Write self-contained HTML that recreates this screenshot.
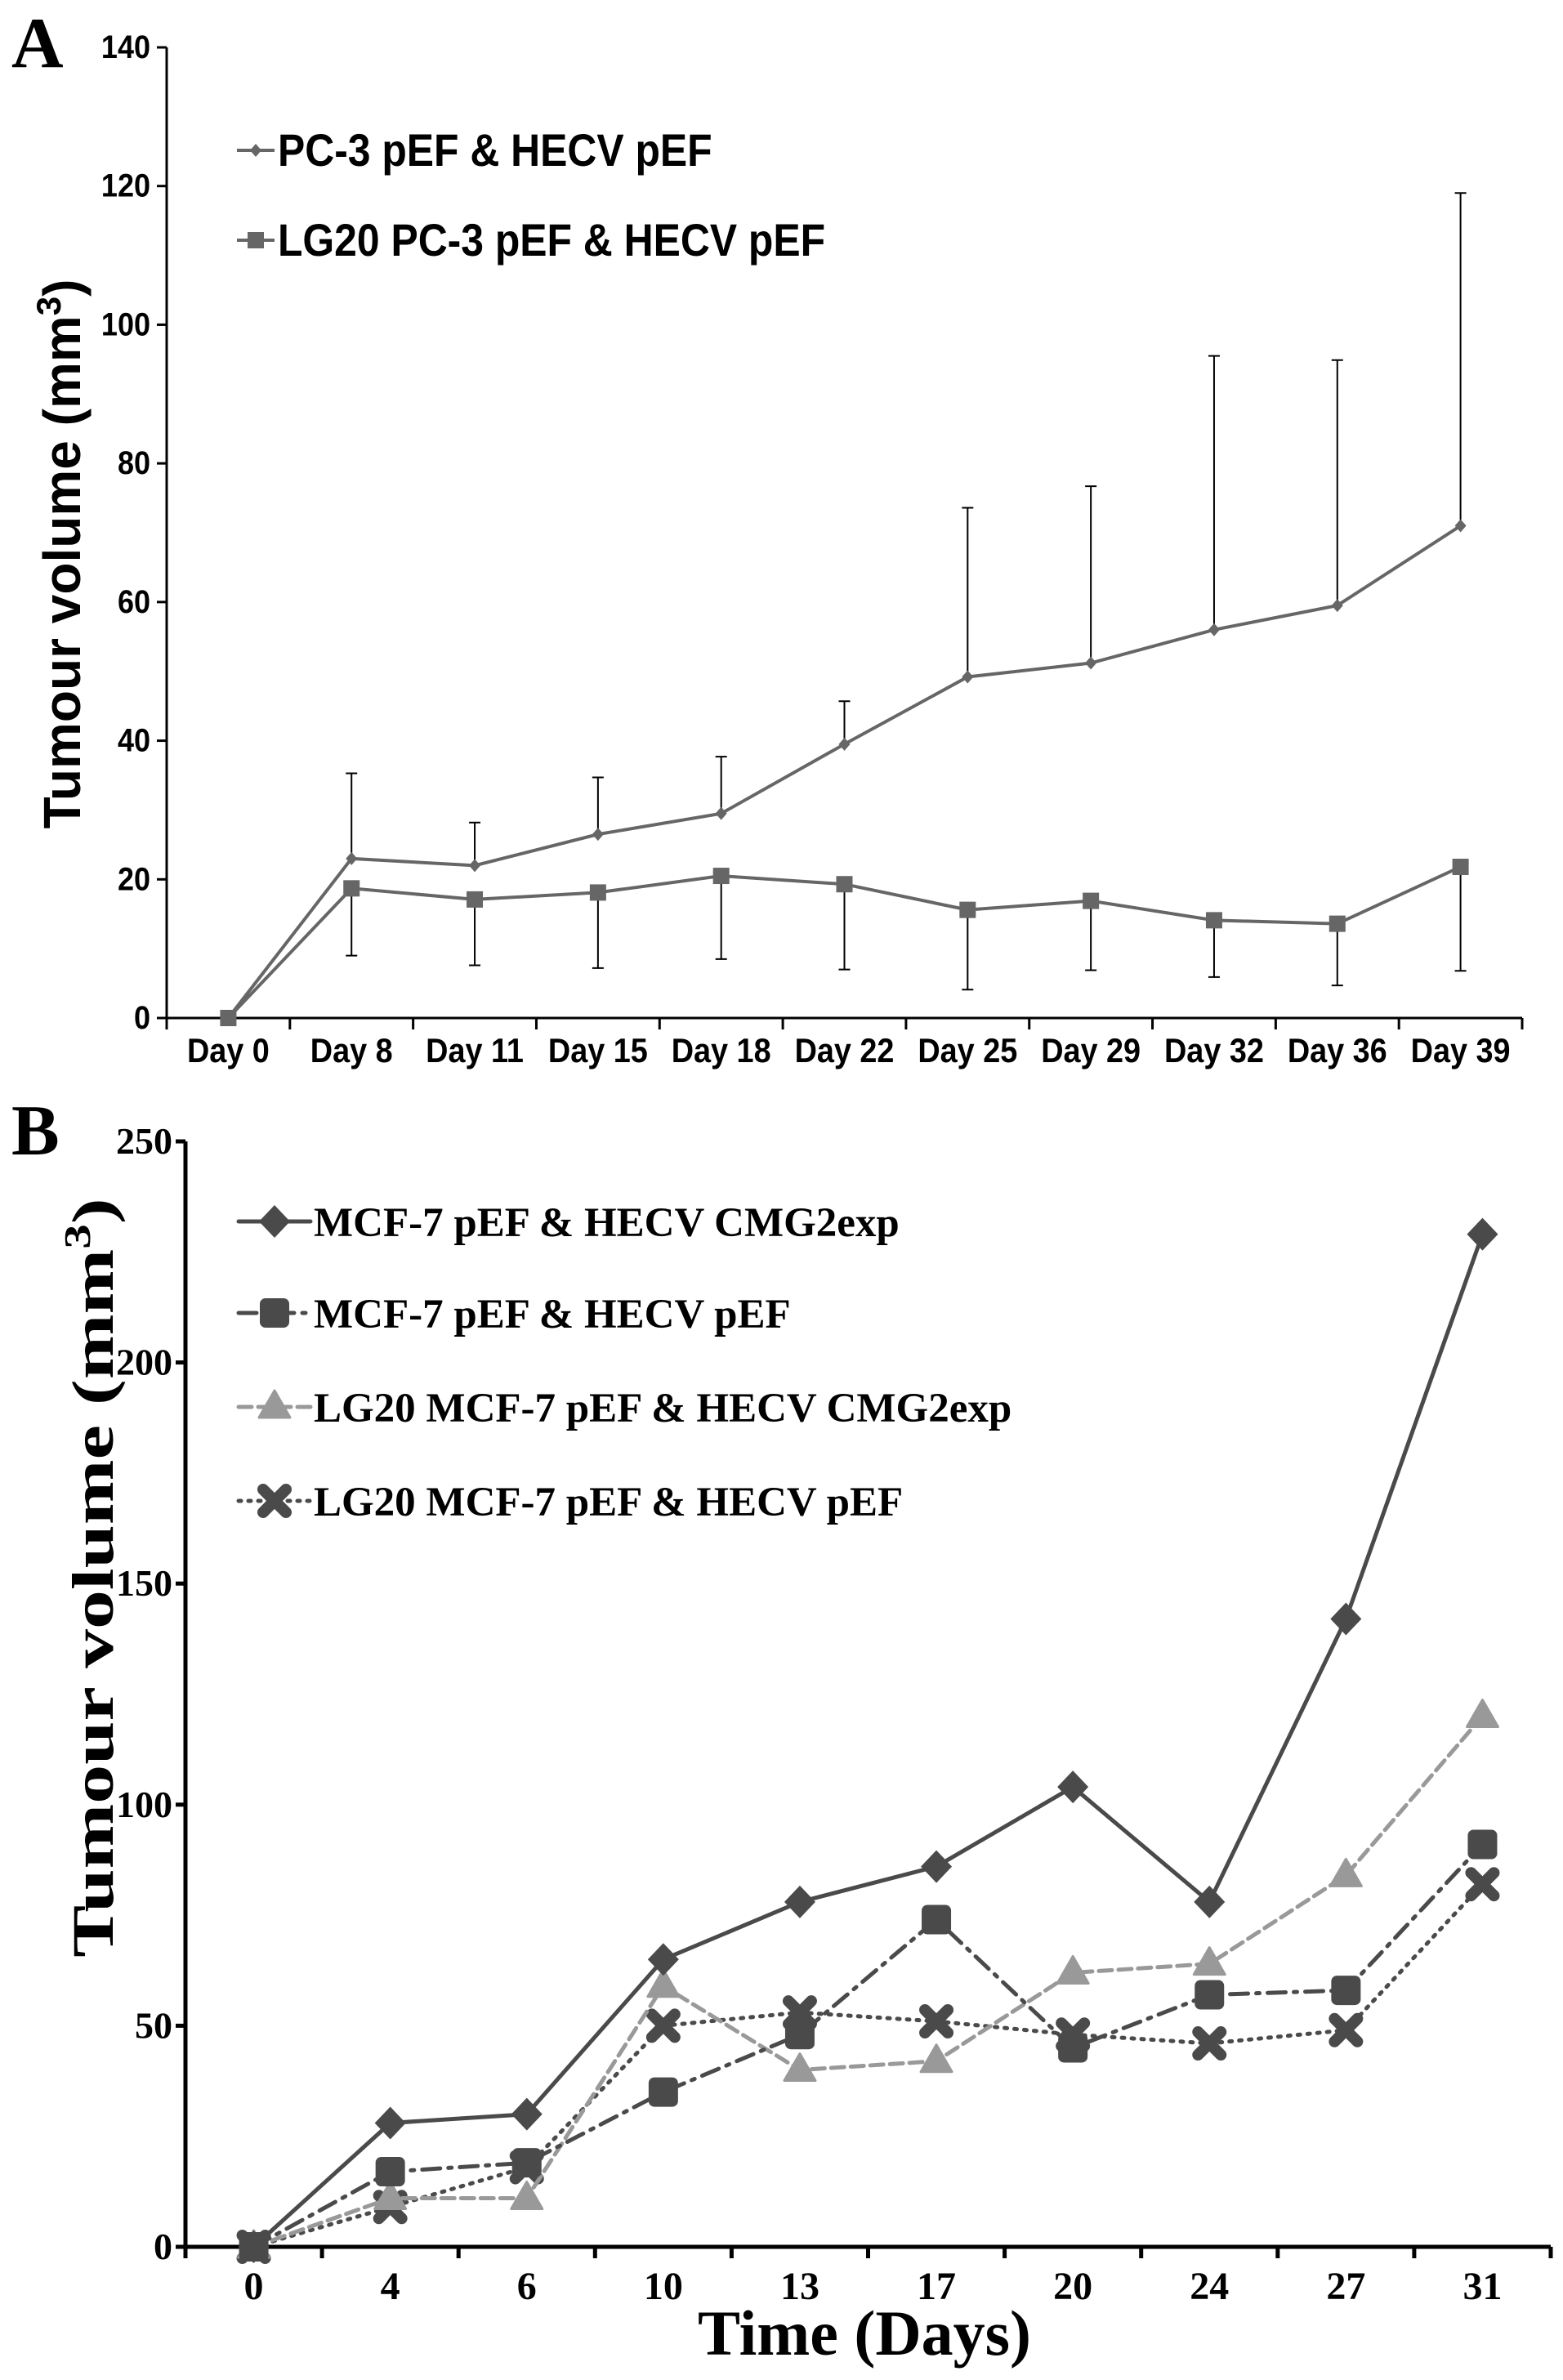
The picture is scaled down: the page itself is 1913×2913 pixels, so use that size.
<!DOCTYPE html>
<html><head><meta charset="utf-8">
<style>
html,body{margin:0;padding:0;background:#fff;}
svg{display:block;}
.sa{font-family:"Liberation Sans",sans-serif;font-weight:bold;}
.tb{font-family:"Liberation Serif",serif;font-weight:bold;}
</style></head>
<body>
<svg id="root" width="1913" height="2913" viewBox="0 0 1913 2913" xmlns="http://www.w3.org/2000/svg">
<text x="14" y="82" class="tb" font-size="88" fill="#000">A</text>
<text x="14" y="1413" class="tb" font-size="88" fill="#000">B</text>
<g id="chartA"></g>
<g id="chartB"></g>
</svg>
<script>
// ---------- Chart A data ----------
const catsA = ["Day 0","Day 8","Day 11","Day 15","Day 18","Day 22","Day 25","Day 29","Day 32","Day 36","Day 39"];
const pcVals = [0,23,22,26.5,29.5,39.5,49.2,51.2,56,59.5,71];
const pcErrHi = [0,35.3,28.2,34.7,37.7,45.7,73.6,76.7,95.5,94.9,119];
const lgVals = [0,18.7,17.1,18.1,20.5,19.3,15.6,16.9,14.1,13.6,21.8];
const lgErrLo = [0,9,7.6,7.2,8.5,7,4.1,6.9,5.9,4.7,6.8];
const ticksA = [0,20,40,60,80,100,120,140];
const legendA = ["PC-3 pEF & HECV pEF","LG20 PC-3 pEF & HECV pEF"];
// ---------- Chart B data ----------
const catsB = ["0","4","6","10","13","17","20","24","27","31"];
const s1 = [0,28,30,65,78,86,104,78,142,229];
const s2 = [0,17,19,35,48,74,45,57,58,91];
const s3 = [0,11,11,59,40,42,62,64,84,120];
const s4 = [0,9,18,50,53,51,48,46,49,82];
const ticksB = [0,50,100,150,200,250];
const legendB = ["MCF-7 pEF & HECV CMG2exp","MCF-7 pEF & HECV pEF","LG20 MCF-7 pEF & HECV CMG2exp","LG20 MCF-7 pEF & HECV pEF"];

const NS="http://www.w3.org/2000/svg";
function mk(tag,attrs,parent,text){const e=document.createElementNS(NS,tag);for(const k in attrs)e.setAttribute(k,attrs[k]);if(text!==undefined)e.textContent=text;parent.appendChild(e);return e;}

// ===== Chart A =====
(function(){
const g=document.getElementById('chartA');
const L=204,R=1863,T=58,B=1246,max=140;
const cw=(R-L)/catsA.length;
const x=i=>L+cw*(i+0.5);
const y=v=>B-(v/max)*(B-T);
const ax=mk('path',{d:`M${L},${T} V${B} H${R}`,stroke:'#000','stroke-width':3,fill:'none'},g);


ticksA.forEach(t=>{
 const l=mk('line',{x1:L-12,x2:L,y1:y(t),y2:y(t),stroke:'#000','stroke-width':3},g);
 
 
 const tx=mk('text',{x:L-20,y:y(t)+13,'text-anchor':'end','font-size':40,class:'sa',transform:`translate(${L-20},0) scale(0.9,1) translate(${-(L-20)},0)`},g,String(t));
 
 
});
for(let i=0;i<=catsA.length;i++){
 const l=mk('line',{x1:L+cw*i,x2:L+cw*i,y1:B,y2:B+14,stroke:'#000','stroke-width':3},g);
 
 
}
catsA.forEach((c,i)=>{
 const tx=mk('text',{x:x(i),y:B+54,'text-anchor':'middle','font-size':42,class:'sa',transform:`translate(${x(i)},0) scale(0.9,1) translate(${-x(i)},0)`},g,c);
 
 
});
const yt=mk('text',{x:0,y:0,'text-anchor':'middle','font-size':64,class:'sa',transform:`translate(98,678) rotate(-90)`},g);


yt.innerHTML='Tumour volume (mm<tspan dy="-24" font-size="42">3</tspan><tspan dy="24">)</tspan>';
pcVals.forEach((v,i)=>{if(i===0)return;
 const e=mk('path',{d:`M${x(i)},${y(v)} V${y(pcErrHi[i])} M${x(i)-7},${y(pcErrHi[i])} H${x(i)+7}`,stroke:'#000','stroke-width':2,fill:'none'},g);
 
 
});
lgVals.forEach((v,i)=>{if(i===0)return;
 const e=mk('path',{d:`M${x(i)},${y(v)} V${y(lgErrLo[i])} M${x(i)-7},${y(lgErrLo[i])} H${x(i)+7}`,stroke:'#000','stroke-width':2,fill:'none'},g);
 
 
});
const l1=mk('polyline',{points:pcVals.map((v,i)=>x(i)+','+y(v)).join(' '),stroke:'#666','stroke-width':4,fill:'none'},g);


const l2=mk('polyline',{points:lgVals.map((v,i)=>x(i)+','+y(v)).join(' '),stroke:'#666','stroke-width':4,fill:'none'},g);


pcVals.forEach((v,i)=>{
 const m=mk('path',{d:`M${x(i)},${y(v)-8} l7,8 l-7,8 l-7,-8z`,fill:'#666'},g);
 
 
});
lgVals.forEach((v,i)=>{
 const m=mk('rect',{x:x(i)-10,y:y(v)-10,width:20,height:20,fill:'#666'},g);
 
 
});
[184,294].forEach((ly,k)=>{
 const ln=mk('line',{x1:290,x2:336,y1:ly,y2:ly,stroke:'#666','stroke-width':4},g);
 
 
 const mm=k===0?mk('path',{d:`M313,${ly-8} l7,8 l-7,8 l-7,-8z`,fill:'#666'},g):mk('rect',{x:303,y:ly-10,width:20,height:20,fill:'#666'},g);
 
 
 const tx=mk('text',{x:340,y:ly+19,'font-size':56,class:'sa',fill:'#000',transform:`translate(340,0) scale(0.89,1) translate(-340,0)`},g,legendA[k]);
 
 
});
})();

// ===== Chart B =====
(function(){
const g=document.getElementById('chartB');
const L=227,R=1898,T=1397,B=2750,max=250;
const cw=(R-L)/catsB.length;
const x=i=>L+cw*(i+0.5);
const y=v=>B-(v/max)*(B-T);
const ax=mk('path',{d:`M${L},${T} V${B} H${R}`,stroke:'#000','stroke-width':5,fill:'none'},g);


ticksB.forEach(t=>{
 const l=mk('line',{x1:L-12,x2:L,y1:y(t),y2:y(t),stroke:'#000','stroke-width':5},g);
 
 
 const tx=mk('text',{x:L-16,y:y(t)+15,'text-anchor':'end','font-size':46,class:'tb'},g,String(t));
 
 
});
for(let i=0;i<=catsB.length;i++){
 const l=mk('line',{x1:L+cw*i,x2:L+cw*i,y1:B,y2:B+14,stroke:'#000','stroke-width':5},g);
 
 
}
catsB.forEach((c,i)=>{
 const tx=mk('text',{x:x(i),y:B+64,'text-anchor':'middle','font-size':48,class:'tb'},g,c);
 
 
});
const xt=mk('text',{x:1058,y:2882,'text-anchor':'middle','font-size':78,class:'tb'},g,'Time (Days)');


const yt=mk('text',{x:0,y:0,'text-anchor':'middle','font-size':72,class:'tb',transform:`translate(138,1931) rotate(-90) scale(1.33,1)`},g);


yt.innerHTML='Tumour volume (mm<tspan dy="-28" font-size="46">3</tspan><tspan dy="28">)</tspan>';
const series=[
 {v:s1,c:'#4a4a4a',d:'none',m:'diamond',n:'mcf7-cmg2exp'},
 {v:s2,c:'#4a4a4a',d:'22 10 4 10',m:'square',n:'mcf7-pef'},
 {v:s3,c:'#999',d:'16 8',m:'triangle',n:'lg20-cmg2exp'},
 {v:s4,c:'#4a4a4a',d:'3 9',m:'cross',n:'lg20-pef'}];
function marker(type,cx,cy,col){
 if(type==='diamond')return mk('path',{d:`M${cx},${cy-20} l19,20 l-19,20 l-19,-20z`,fill:col},g);
 if(type==='square')return mk('rect',{x:cx-18,y:cy-18,width:36,height:36,rx:7,fill:col},g);
 if(type==='triangle')return mk('path',{d:`M${cx},${cy-20} l19,33 h-38z`,fill:col,'stroke':col,'stroke-width':3,'stroke-linejoin':'round'},g);
 return mk('path',{d:`M${cx-14},${cy-14} L${cx+14},${cy+14} M${cx+14},${cy-14} L${cx-14},${cy+14}`,stroke:col,'stroke-width':14,'stroke-linecap':'round'},g);
}
[3,2,1,0].forEach(k=>{const s=series[k];
 const ln=mk('polyline',{points:s.v.map((v,i)=>x(i)+','+y(v)).join(' '),stroke:s.c,'stroke-width':5,fill:'none','stroke-dasharray':s.d,'stroke-linecap':'round'},g);
 
 
 s.v.forEach((v,i)=>{const m=marker(s.m,x(i),y(v),s.c);
  
  });
});
[1495,1607,1722,1837].forEach((ly,k)=>{const s=series[k];
 const ln=mk('line',{x1:292,x2:380,y1:ly,y2:ly,stroke:s.c,'stroke-width':5,'stroke-dasharray':s.d,'stroke-linecap':'round'},g);
 
 
 const m=marker(s.m,336,ly,s.c);
 
 
 const tx=mk('text',{x:384,y:ly+18,'font-size':51,class:'tb',fill:'#000'},g,legendB[k]);
 
 
});
})();
</script>
</body></html>
